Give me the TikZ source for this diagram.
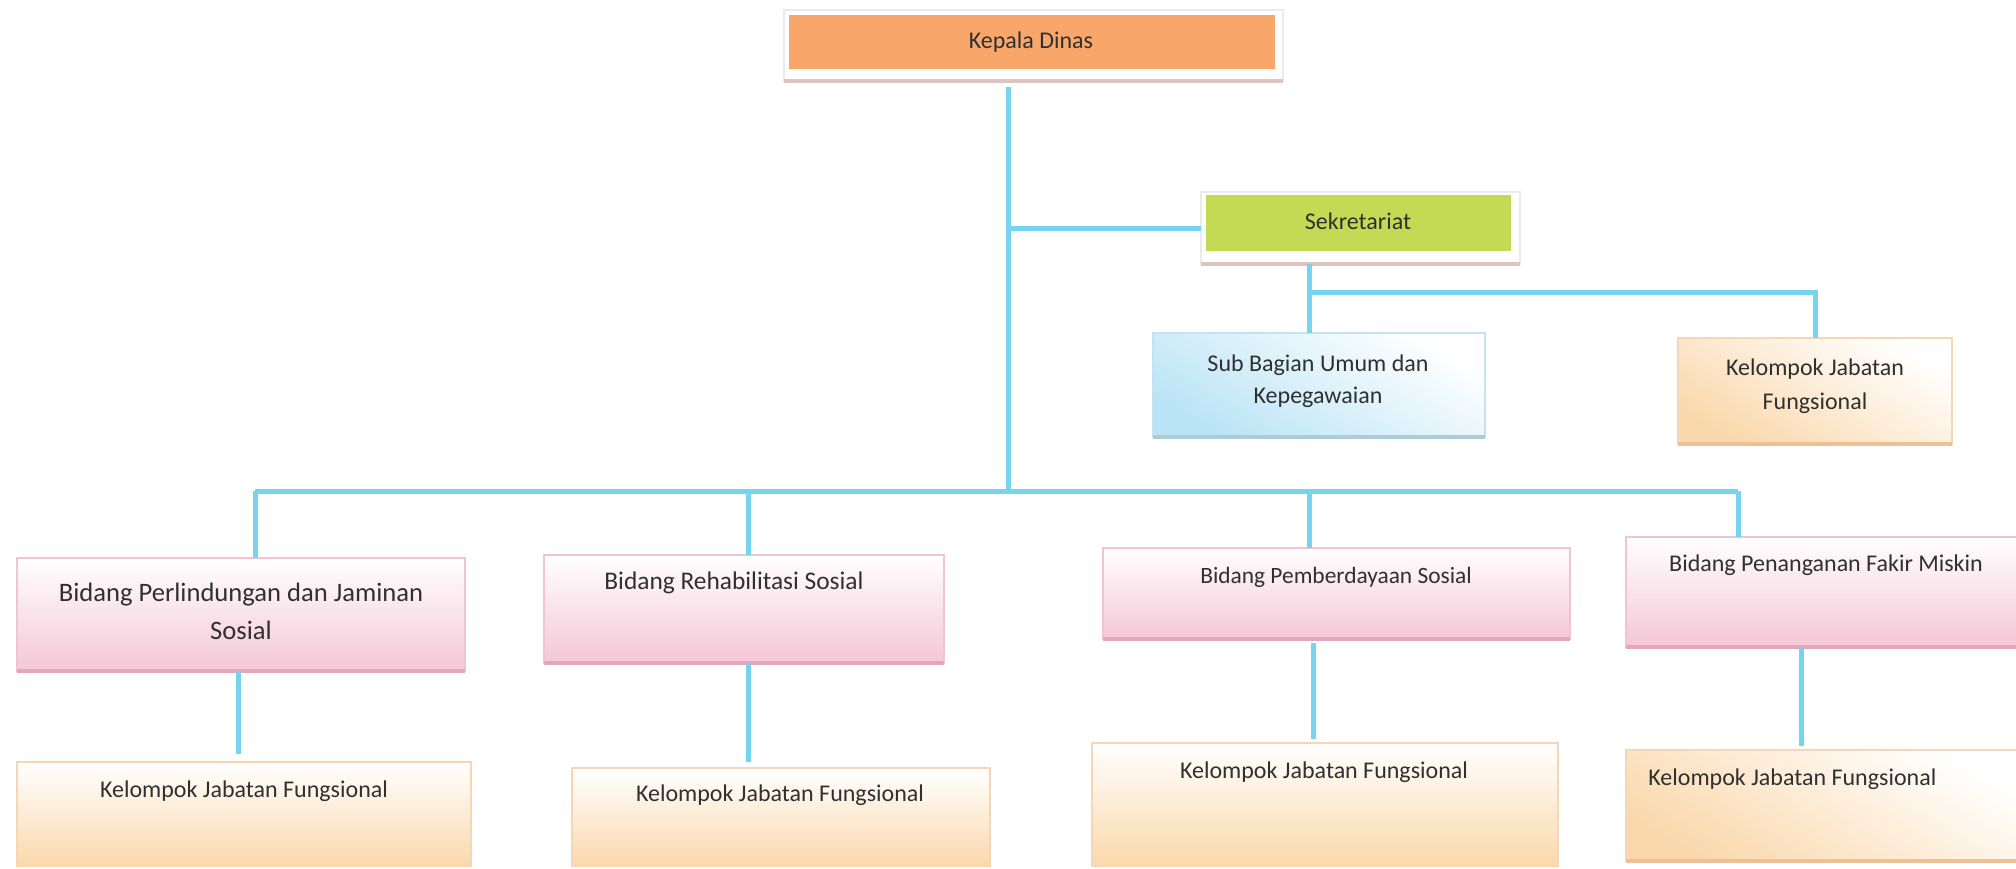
\documentclass[tikz,border=0pt]{standalone}
\usepackage{fontspec}
\setmainfont{Carlito}
\usetikzlibrary{fit}

\definecolor{link}{RGB}{118,212,238}
\definecolor{headfill}{RGB}{248,166,106}
\definecolor{secfill}{RGB}{197,218,84}
\definecolor{pinkfill}{RGB}{244,198,214}
\definecolor{pinkline}{RGB}{240,196,212}
\definecolor{pinkedge}{RGB}{228,166,186}
\definecolor{peachfill}{RGB}{250,216,172}
\definecolor{peachline}{RGB}{246,214,182}
\definecolor{peachedge}{RGB}{238,192,150}
\definecolor{bluefill}{RGB}{186,228,246}
\definecolor{blueline}{RGB}{196,226,240}
\definecolor{frameedge}{RGB}{222,196,190}
\definecolor{inktext}{RGB}{48,48,48}

\begin{document}
\begin{tikzpicture}[x=0.5pt,y=-0.5pt,
  box/.style={rectangle, inner sep=0pt, outer sep=0pt},
  frame/.style={box, fill=white, draw=black!8, line width=0.6pt},
  headbox/.style={box, fill=headfill},
  secbox/.style={box, fill=secfill},
  bidang/.style={box, top color=white, middle color=pinkfill!50, bottom color=pinkfill, draw=pinkline, line width=0.7pt},
  kjf/.style={box, top color=white, middle color=peachfill!30, bottom color=peachfill, draw=peachline, line width=0.7pt},
  kjfwarm/.style={box, top color=white, bottom color=peachfill, shading angle=-30, draw=peachline, line width=0.7pt},
  subbag/.style={box, top color=white, bottom color=bluefill, shading angle=-30, draw=blueline, line width=0.7pt},
  conn/.style={draw=link, line width=2.5pt},
  boxtext/.style={text=inktext, inner sep=0pt, align=center, font=\fontsize{12}{16.5}\selectfont},
  shadowline/.style={line width=1.6pt}
]
\useasboundingbox[fill=white] (0,0) rectangle (2016,868);

% ---------- head of the office ----------
\node[frame, fit={(784,10)(1283,81)}] (kdf) {};
\node[headbox, fit={(789,15)(1275,69)}] (kd) {};
\node[boxtext, anchor=base] (kdt) at (1031,48) {Kepala Dinas};
\draw[shadowline, frameedge] (kdf.south west) -- (kdf.south east);

% ---------- secretariat ----------
\node[frame, fit={(1201,192)(1520,264)}] (secf) {};
\node[secbox, fit={(1206,195)(1511,251)}] (sec) {};
\node[boxtext, anchor=base] (sect) at (1358,229) {Sekretariat};
\draw[shadowline, frameedge] (secf.south west) -- (secf.south east);

\node[subbag, fit={(1153,333)(1485,437)}] (sub) {};
\draw[shadowline, blueline!90!black] (sub.south west) -- (sub.south east);
\node[boxtext, font=\fontsize{12}{16}\selectfont] (subt) at (1318,381) {Sub Bagian Umum dan\\Kepegawaian};

\node[kjfwarm, fit={(1678,338)(1952,444)}] (kr) {};
\draw[shadowline, peachedge] (kr.south west) -- (kr.south east);
\node[boxtext, font=\fontsize{12}{17}\selectfont] (krt) at (1815,386) {Kelompok Jabatan\\Fungsional};

% ---------- divisions ----------
\node[bidang, fit={(17,558)(465,671)}] (b1) {};
\node[bidang, fit={(544,555)(944,663)}] (b2) {};
\node[bidang, fit={(1103,548)(1570,639)}] (b3) {};
\node[bidang, fit={(1626,537)(2022,647)}] (b4) {};
\foreach \b in {b1,b2,b3,b4}
  \draw[shadowline, pinkedge] (\b.south west) -- (\b.south east);

\node[boxtext, font=\fontsize{13.3}{19}\selectfont] (b1t) at (241,611) {Bidang Perlindungan dan Jaminan\\Sosial};
\node[boxtext, anchor=base, font=\fontsize{12.7}{16}\selectfont] (b2t) at (734,589) {Bidang Rehabilitasi Sosial};
\node[boxtext, anchor=base, font=\fontsize{11.7}{16}\selectfont] (b3t) at (1336,583) {Bidang Pemberdayaan Sosial};
\node[boxtext, anchor=base] (b4t) at (1826,571) {Bidang Penanganan Fakir Miskin};

% ---------- functional groups ----------
\node[kjf, fit={(17,762)(471,866)}] (k1) {};
\node[kjf, fit={(572,768)(990,866)}] (k2) {};
\node[kjf, fit={(1092,743)(1558,866)}] (k3) {};
\node[kjfwarm, fit={(1626,750)(2022,861)}] (k4) {};
\draw[shadowline, peachedge] (k4.south west) -- (k4.south east);

\node[boxtext, anchor=base] (k1t) at (244,797) {Kelompok Jabatan Fungsional};
\node[boxtext, anchor=base] (k2t) at (780,801) {Kelompok Jabatan Fungsional};
\node[boxtext, anchor=base] (k3t) at (1324,778) {Kelompok Jabatan Fungsional};
\node[boxtext, anchor=base west] (k4t) at (1648,785) {Kelompok Jabatan Fungsional};

% ---------- connectors ----------
\coordinate (hub) at (1008,491);
\coordinate (sj) at (1309,292);
\coordinate (d1) at (255,491);
\coordinate (d2) at (748,491);
\coordinate (d3) at (1309,491);
\coordinate (d4) at (1738,491);
\coordinate (l1) at (238,0);
\coordinate (l2) at (748,0);
\coordinate (l3) at (1313,0);
\coordinate (l4) at (1801,0);

\draw[conn] ([yshift=-3pt]kdf.south -| hub) -- (hub);
\draw[conn] (hub |- secf.west) -- (secf.west);
\draw[conn] (secf.south -| sj) -- (sub.north -| sj);
\draw[conn] (sj) -| (kr.north);
\draw[conn] (d1) -- (d4);
\draw[conn] (d1) -- (b1.north -| d1);
\draw[conn] (d2) -- (b2.north -| d2);
\draw[conn] (d3) -- (b3.north -| d3);
\draw[conn] (d4) -- (b4.north -| d4);
\draw[conn, shorten >=4pt] (b1.south -| l1) -- (k1.north -| l1);
\draw[conn, shorten >=3pt] (b2.south -| l2) -- (k2.north -| l2);
\draw[conn, shorten >=2pt, shorten <=2pt] (b3.south -| l3) -- (k3.north -| l3);
\draw[conn, shorten >=2pt] (b4.south -| l4) -- (k4.north -| l4);
\end{tikzpicture}
\end{document}
